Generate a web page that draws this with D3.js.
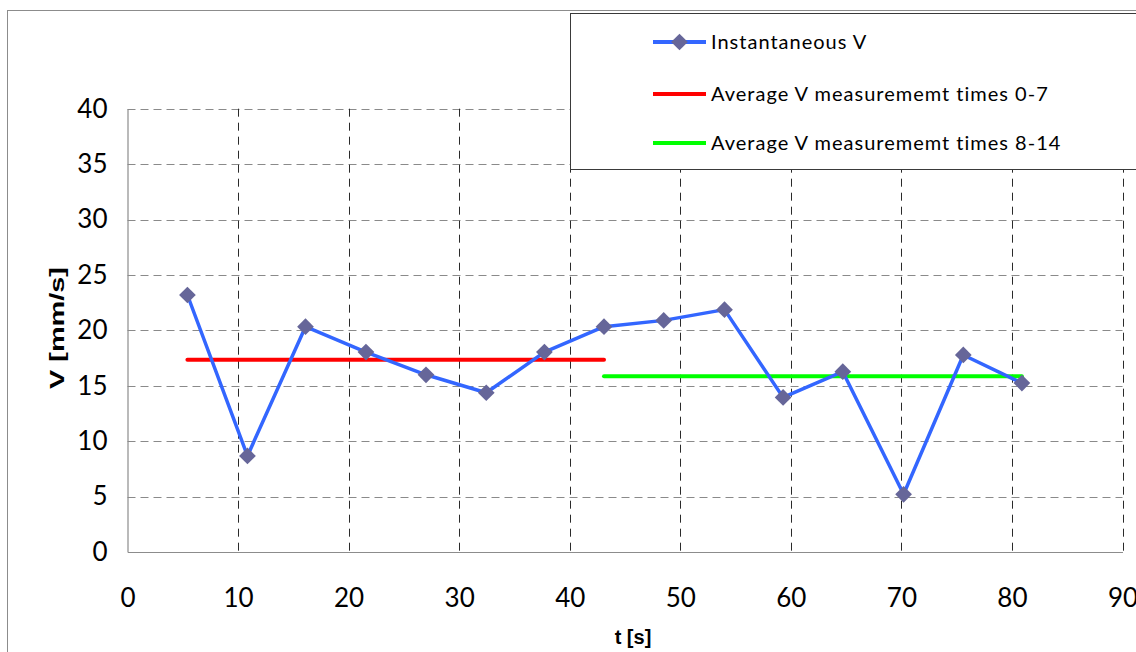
<!DOCTYPE html>
<html>
<head>
<meta charset="utf-8">
<script src="https://cdn.jsdelivr.net/npm/d3@7"></script>
<style>
  html, body { margin: 0; padding: 0; background: #fff; }
  svg { display: block; }
</style>
</head>
<body>
<svg id="chart" width="1136" height="652"></svg>
<script>
// ---- data ----
const times = [5.42, 10.85, 16.1, 21.57, 27.0, 32.45, 37.71, 43.1, 48.5, 54.0, 59.3, 64.7, 70.2, 75.6, 80.9];
const velocity = [23.19, 8.67, 20.33, 18.04, 15.99, 14.37, 18.04, 20.33, 20.9, 21.87, 13.95, 16.27, 5.21, 17.78, 15.24];
const avgFirstTimes = [5.42, 43.1];
const avgFirstValue = 17.34;
const avgSecondTimes = [43.1, 80.9];
const avgSecondValue = 15.85;
const xTicks = [0, 10, 20, 30, 40, 50, 60, 70, 80, 90];
const yTicks = [0, 5, 10, 15, 20, 25, 30, 35, 40];
const seriesNames = ["Instantaneous V", "Average V measurememt times 0-7", "Average V measurememt times 8-14"];
const seriesColors = ["#3366ff", "#ff0000", "#00ff00"];
const xTitle = "t [s]";
const yTitle = "V  [mm/s]";

// ---- layout ----
const W = 1136, H = 652;
const plot = { left: 127.5, right: 1122.5, top: 108.7, bottom: 552 };

const svg = d3.select("#chart");
const x = d3.scaleLinear().domain([0, 90]).range([plot.left, plot.right]);
const y = d3.scaleLinear().domain([0, 40]).range([plot.bottom, plot.top]);

// outer frame
svg.append("rect")
  .attr("x", 7.5).attr("y", 10.5)
  .attr("width", W + 20).attr("height", H + 20)
  .attr("fill", "#fff").attr("stroke", "#8c8c8c").attr("stroke-width", 1);

// horizontal grid
svg.append("g").selectAll("line").data(yTicks.filter(d => d > 0)).join("line")
  .attr("x1", plot.left).attr("x2", plot.right)
  .attr("y1", d => Math.round(y(d)) + 0.5).attr("y2", d => Math.round(y(d)) + 0.5)
  .attr("stroke", "#8a8a8a").attr("stroke-width", 1).attr("stroke-dasharray", "8,5");

// vertical grid
svg.append("g").selectAll("line").data(xTicks.filter(d => d > 0)).join("line")
  .attr("x1", d => Math.round(x(d)) + 0.5).attr("x2", d => Math.round(x(d)) + 0.5)
  .attr("y1", plot.top).attr("y2", plot.bottom)
  .attr("stroke", "#2a2a2a").attr("stroke-width", 1).attr("stroke-dasharray", "8,6");

// axes
const fontTicks = "Lato, 'Open Sans', sans-serif";
const gx = svg.append("g").attr("transform", `translate(0,${plot.bottom})`)
  .call(d3.axisBottom(x).tickValues(xTicks).tickSize(0).tickPadding(37).tickFormat(d3.format("d")));
const gy = svg.append("g").attr("transform", `translate(${plot.left},0)`)
  .call(d3.axisLeft(y).tickValues(yTicks).tickSize(0).tickPadding(20).tickFormat(d3.format("d")));
[gx, gy].forEach(g => {
  g.select(".domain").attr("stroke", "#8c8c8c").attr("stroke-width", 1.2);
  g.selectAll("text").attr("font-family", fontTicks).attr("font-size", 26).attr("fill", "#000");
});

// axis titles
svg.append("text")
  .attr("x", 633).attr("y", 637).attr("dy", "0.35em")
  .attr("text-anchor", "middle")
  .attr("font-family", "Arial, 'Liberation Sans', sans-serif")
  .attr("font-weight", "bold").attr("font-size", 20)
  .text(xTitle);
svg.append("text")
  .attr("transform", "translate(57,328) rotate(-90)")
  .attr("dy", "0.35em")
  .attr("text-anchor", "middle")
  .attr("font-family", "Arial, 'Liberation Sans', sans-serif")
  .attr("font-weight", "bold").attr("font-size", 20)
  .attr("textLength", 122).attr("lengthAdjust", "spacingAndGlyphs")
  .text(yTitle);

// average lines
const avgLine = d3.line().x(d => x(d[0])).y(d => y(d[1]));
svg.append("path")
  .datum(avgFirstTimes.map(t => [t, avgFirstValue]))
  .attr("d", avgLine).attr("fill", "none")
  .attr("stroke", seriesColors[1]).attr("stroke-width", 4).attr("stroke-linecap", "round");
svg.append("path")
  .datum(avgSecondTimes.map(t => [t, avgSecondValue]))
  .attr("d", avgLine).attr("fill", "none")
  .attr("stroke", seriesColors[2]).attr("stroke-width", 4).attr("stroke-linecap", "round");

// instantaneous series
const pts = times.map((t, i) => [t, velocity[i]]);
svg.append("path")
  .datum(pts)
  .attr("d", d3.line().x(d => x(d[0])).y(d => y(d[1])))
  .attr("fill", "none").attr("stroke", seriesColors[0]).attr("stroke-width", 3.5)
  .attr("stroke-linejoin", "round");

const diamond = d3.symbol().type(d3.symbolSquare).size(140);
svg.append("g").selectAll("path").data(pts).join("path")
  .attr("transform", d => `translate(${x(d[0])},${y(d[1])}) rotate(45)`)
  .attr("d", diamond)
  .attr("fill", "#666699");

// legend
const legend = svg.append("g");
legend.append("rect")
  .attr("x", 570.5).attr("y", 13.5).attr("width", 600).attr("height", 156)
  .attr("fill", "#fff").attr("stroke", "#3a3a3a").attr("stroke-width", 1);
const rowsY = [42, 94, 143];
seriesNames.forEach((name, i) => {
  legend.append("line")
    .attr("x1", 653).attr("x2", 706).attr("y1", rowsY[i]).attr("y2", rowsY[i])
    .attr("stroke", seriesColors[i]).attr("stroke-width", 4);
  if (i === 0) {
    legend.append("path")
      .attr("transform", `translate(679.5,${rowsY[i]}) rotate(45)`)
      .attr("d", diamond).attr("fill", "#666699");
  }
  legend.append("text")
    .attr("x", 711).attr("y", rowsY[i]).attr("dy", "0.35em")
    .attr("font-family", fontTicks).attr("font-size", 20)
    .attr("letter-spacing", "1px")
    .attr("fill", "#000")
    .text(name);
});
</script>
</body>
</html>
